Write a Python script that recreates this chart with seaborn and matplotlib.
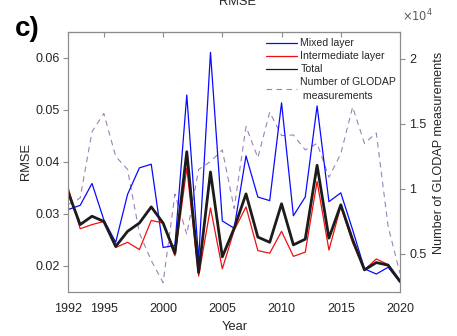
import numpy as np
import pandas as pd
import matplotlib
matplotlib.use("Agg")
import matplotlib.pyplot as plt
from matplotlib.lines import Line2D
import seaborn as sns

# Yearly RMSE by layer and number of GLODAP measurements (1992-2020)
years = list(range(1992, 2021))
mixed_layer = [0.0308, 0.0316, 0.0358, 0.0288, 0.0245, 0.0337, 0.0388, 0.0395, 0.0235, 0.0239,
               0.0528, 0.0212, 0.0610, 0.0286, 0.0272, 0.0411, 0.0332, 0.0325, 0.0513, 0.0296,
               0.0332, 0.0507, 0.0323, 0.0340, 0.0269, 0.0194, 0.0184, 0.0197, 0.0168]
intermediate_layer = [0.0349, 0.0271, 0.0279, 0.0285, 0.0235, 0.0245, 0.0231, 0.0287, 0.0282, 0.0219,
                      0.0388, 0.0180, 0.0311, 0.0194, 0.0268, 0.0313, 0.0229, 0.0224, 0.0266, 0.0218,
                      0.0226, 0.0362, 0.0230, 0.0314, 0.0244, 0.0192, 0.0213, 0.0202, 0.0170]
total = [0.0340, 0.0279, 0.0295, 0.0285, 0.0237, 0.0266, 0.0282, 0.0313, 0.0282, 0.0224,
         0.0419, 0.0187, 0.0380, 0.0217, 0.0272, 0.0338, 0.0255, 0.0245, 0.0319, 0.0240,
         0.0251, 0.0393, 0.0253, 0.0317, 0.0250, 0.0192, 0.0206, 0.0201, 0.0170]
glodap_count = [8800, 9300, 14400, 15800, 12500, 11500, 6600, 4500, 2800, 9600,
                6500, 11500, 12100, 13000, 8500, 14800, 12400, 15900, 14100, 14150,
                13000, 13500, 10900, 12700, 16300, 13500, 14300, 7100, 3500]

x_ticks = [1992, 1995, 2000, 2005, 2010, 2015, 2020]
left_ticks = [0.02, 0.03, 0.04, 0.05, 0.06]
right_ticks = [5000, 10000, 15000, 20000]
right_labels = ["0.5", "1", "1.5", "2"]

df = pd.DataFrame({"year": years, "mixed": mixed_layer, "inter": intermediate_layer,
                   "total": total, "glodap": glodap_count})

sns.set_style("white")
plt.rcParams["font.family"] = ["Liberation Sans", "DejaVu Sans"]
plt.rcParams["axes.linewidth"] = 0.8

text_c = "#262626"
spine_c = "#8c8c8c"
dash_c = "#9d82b6"

fig = plt.figure(figsize=(4.57, 3.36), dpi=100)
ax = fig.add_axes([0.1495, 0.1318, 0.7258, 0.7744])
ax2 = ax.twinx()
ax.set_zorder(ax2.get_zorder() + 1)
ax.patch.set_visible(False)

sns.lineplot(data=df, x="year", y="glodap", ax=ax2, color=dash_c, lw=0.8,
             linestyle=(0, (5, 4)), legend=False)
sns.lineplot(data=df, x="year", y="mixed", ax=ax, color="#0a0aff", lw=0.9, legend=False)
sns.lineplot(data=df, x="year", y="inter", ax=ax, color="#f01010", lw=0.9, legend=False)
sns.lineplot(data=df, x="year", y="total", ax=ax, color="#1c1c1c", lw=2.0, legend=False)

ax.set_xlim(1992, 2020)
ax.set_ylim(0.015, 0.065)
ax2.set_ylim(2100, 22100)

ax.set_xticks(x_ticks)
ax.set_yticks(left_ticks)
ax.set_yticklabels([f"{v:.2f}" for v in left_ticks])
ax2.set_yticks(right_ticks)
ax2.set_yticklabels(right_labels)

for a in (ax, ax2):
    for s in a.spines.values():
        s.set_color(spine_c)
        s.set_linewidth(0.8)

ax.tick_params(axis="both", direction="out", length=3.5, width=0.8, color=spine_c,
               labelsize=9.0, labelcolor=text_c)
ax.tick_params(axis="x", pad=4.5)
ax.tick_params(axis="y", pad=2.5)
ax2.tick_params(axis="y", direction="out", length=3.5, width=0.8, color=spine_c,
                labelsize=9.0, labelcolor=text_c, pad=3)

top = ax.secondary_xaxis("top")
top.set_xticks(x_ticks)
top.tick_params(direction="in", length=3.5, width=0.8, color=spine_c, labeltop=False)
top.spines["top"].set_color(spine_c)

ax.set_xlabel("Year", fontsize=9.3, color=text_c, va="center")
ax.xaxis.set_label_coords(0.5026, -0.1345)
ax.set_ylabel("RMSE", fontsize=9.3, color=text_c, va="center")
ax.yaxis.set_label_coords(-0.1275, 0.5)
ax2.set_ylabel("Number of GLODAP measurements", fontsize=9.1, color=text_c, va="center")
ax2.yaxis.set_label_coords(1.1175, 0.535)

fig.text(402 / 457, 1 - 21 / 336, r"$\times10^4$", fontsize=8.3, color="#5a5a5a",
         ha="left", va="baseline")
fig.text(238 / 457, 1 - 5 / 336, "RMSE", fontsize=9.3, color=text_c,
         ha="center", va="baseline")
fig.text(15 / 457, 1 - 36 / 336, "c)", fontsize=20, fontweight="bold",
         color="black", ha="left", va="baseline")

handles = [
    Line2D([], [], color="#0a0aff", lw=0.9),
    Line2D([], [], color="#f01010", lw=0.9),
    Line2D([], [], color="#1c1c1c", lw=0.9),
    Line2D([], [], color=dash_c, lw=0.8, linestyle=(0, (5, 4))),
]
labels = ["Mixed layer", "Intermediate layer", "Total", "Number of GLODAP\n measurements"]
leg = ax.legend(handles, labels, loc="upper left", bbox_to_anchor=(266 / 457, 1 - 38.5 / 336),
                bbox_transform=fig.transFigure, frameon=False, fontsize=7.6,
                handlelength=2.9, handletextpad=0.35, labelspacing=0.28,
                borderpad=0, borderaxespad=0, labelcolor=text_c)
for t in leg.get_texts():
    t.set_linespacing(1.45)

fig.savefig("out.png", dpi=100)
